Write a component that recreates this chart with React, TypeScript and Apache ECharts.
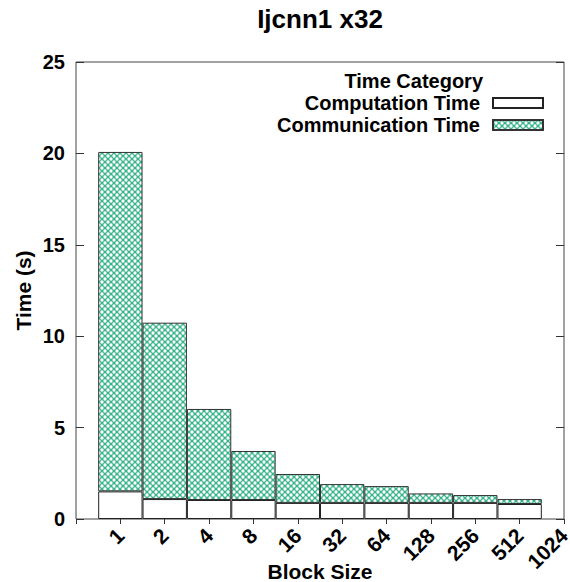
import React, { useEffect, useRef } from "react";
import * as echarts from "echarts";

const titleText = "Ijcnn1 x32";
const legendTitle = "Time Category";
const categories = ["", "1", "2", "4", "8", "16", "32", "64", "128", "256", "512", "1024"];
const computationTime = [null, 1.51, 1.09, 1.04, 1.04, 0.88, 0.88, 0.88, 0.88, 0.88, 0.82, null];
const communicationTime = [null, 18.57, 9.65, 4.98, 2.68, 1.58, 1.03, 0.92, 0.52, 0.43, 0.27, null];
const yTicks = { min: 0, max: 25, interval: 5 };

const FONT = "'Liberation Sans', Arial, sans-serif";

function makePattern(): HTMLCanvasElement {
  const c = document.createElement("canvas");
  c.width = 6;
  c.height = 6;
  const ctx = c.getContext("2d")!;
  ctx.fillStyle = "#3ab48b";
  ctx.fillRect(0, 0, 6, 6);
  ctx.fillStyle = "#ffffff";
  const pts = [
    [0, 0], [6, 0], [0, 6], [6, 6], [3, 3],
  ];
  for (const [x, y] of pts) {
    ctx.beginPath();
    ctx.arc(x, y, 1.65, 0, Math.PI * 2);
    ctx.fill();
  }
  return c;
}

export default function App() {
  const ref = useRef<HTMLDivElement>(null);
  useEffect(() => {
    document.body.style.margin = "0";
    if (!ref.current) return;
    const chart = echarts.init(ref.current, undefined, { renderer: "svg" });
    const pattern = makePattern();
    const labelStyle = { fontFamily: FONT, fontWeight: "bold" as const, fontSize: 20, color: "#000" };
    chart.setOption({
      animation: false,
      backgroundColor: "#fff",
      title: [
        {
          text: titleText,
          left: 320,
          top: 6,
          textAlign: "center",
          padding: 0,
          textStyle: { fontFamily: FONT, fontWeight: "bold", fontSize: 26, color: "#000" },
        },
        {
          text: legendTitle,
          right: 87,
          top: 71,
          padding: 0,
          textStyle: { ...labelStyle },
        },
      ],
      legend: [
        {
          data: ["Computation Time"],
          right: 26,
          top: 93,
          padding: 0,
          align: "right",
          icon: "rect",
          itemWidth: 50,
          itemHeight: 10,
          textStyle: { ...labelStyle, padding: [0, 8, 0, 0] },
          selectedMode: false,
        },
        {
          data: ["Communication Time"],
          right: 26,
          top: 115,
          padding: 0,
          align: "right",
          icon: "rect",
          itemWidth: 50,
          itemHeight: 10,
          textStyle: { ...labelStyle, padding: [0, 8, 0, 0] },
          selectedMode: false,
        },
      ],
      grid: {
        left: 76,
        right: 6,
        top: 62,
        bottom: 63,
        show: true,
        borderColor: "#444",
        borderWidth: 1,
        containLabel: false,
        outerBoundsMode: "none",
      },
      xAxis: [
        {
          type: "category",
          data: categories,
          boundaryGap: false,
          position: "bottom",
          axisLine: { show: false },
          axisTick: { show: false },
          axisLabel: { ...labelStyle, fontSize: 21, rotate: 45, interval: 0, margin: 13 },
          name: "Block Size",
          nameLocation: "middle",
          nameGap: 42,
          nameMoveOverlap: false,
          nameTextStyle: { fontFamily: FONT, fontWeight: "bold", fontSize: 21, color: "#000" },
          splitLine: { show: false },
        },
        {
          type: "category",
          data: categories,
          boundaryGap: false,
          position: "top",
          axisLine: { show: false },
          axisTick: { show: true, inside: true, length: 5, interval: 0, lineStyle: { color: "#333" } },
          axisLabel: { show: false },
          splitLine: { show: false },
        },
      ],
      yAxis: [
        {
          type: "value",
          min: yTicks.min,
          max: yTicks.max,
          interval: yTicks.interval,
          position: "left",
          axisLine: { show: false },
          axisTick: { show: true, inside: true, length: 8, lineStyle: { color: "#333" } },
          axisLabel: { ...labelStyle, margin: 11 },
          splitLine: { show: false },
          name: "Time (s)",
          nameLocation: "middle",
          nameGap: 42,
          nameMoveOverlap: false,
          nameTextStyle: { fontFamily: FONT, fontWeight: "bold", fontSize: 21, color: "#000" },
        },
        {
          type: "value",
          min: yTicks.min,
          max: yTicks.max,
          interval: yTicks.interval,
          position: "right",
          axisLine: { show: false },
          axisTick: { show: true, inside: true, length: 8, lineStyle: { color: "#333" } },
          axisLabel: { show: false },
          splitLine: { show: false },
        },
      ],
      series: [
        {
          name: "Computation Time",
          type: "bar",
          stack: "t",
          data: computationTime,
          barCategoryGap: "0%",
          itemStyle: { color: "#fff", borderColor: "#222", borderWidth: 1 },
        },
        {
          name: "Communication Time",
          type: "bar",
          stack: "t",
          data: communicationTime,
          barCategoryGap: "0%",
          itemStyle: {
            color: { image: pattern, repeat: "repeat" },
            borderColor: "#333",
            borderWidth: 1,
          },
        },
      ],
    });
    return () => chart.dispose();
  }, []);
  return <div ref={ref} style={{ width: 570, height: 582 }} />;
}
